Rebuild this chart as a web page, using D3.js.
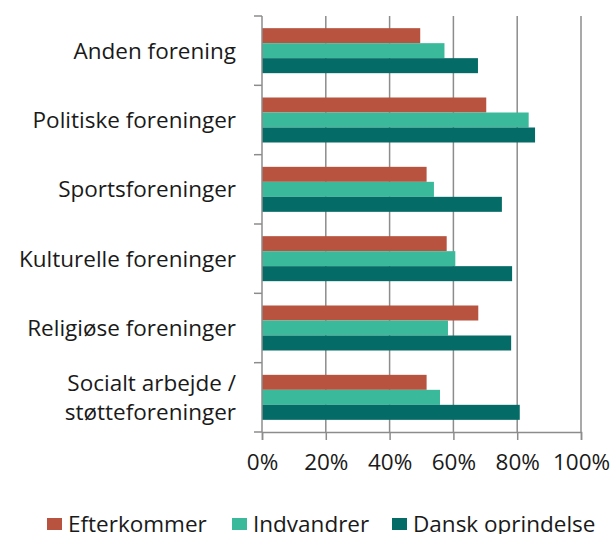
<!DOCTYPE html>
<html>
<head>
<meta charset="utf-8">
<script src="https://cdn.jsdelivr.net/npm/d3@7"></script>
<style>
  body { margin: 0; background: #fff; }
  text { font-family: "Open Sans", sans-serif; fill: #1a1a1a; }
</style>
</head>
<body>
<div id="chart"></div>
<script>
// categories top to bottom
var categories = ["Anden forening", "Politiske foreninger", "Sportsforeninger",
                  "Kulturelle foreninger", "Religiøse foreninger", "Socialt arbejde / støtteforeninger"];
var seriesNames = ["Efterkommer", "Indvandrer", "Dansk oprindelse"];
var efterkommer = [0.496, 0.703, 0.516, 0.579, 0.678, 0.516];
var indvandrer = [0.572, 0.836, 0.539, 0.606, 0.583, 0.558];
var danskOprindelse = [0.677, 0.856, 0.752, 0.784, 0.781, 0.808];
var xTicks = [0, 0.2, 0.4, 0.6, 0.8, 1];
var colors = ["#B85340", "#3BBA9B", "#046B66"];

var width = 613, height = 534;
var margin = { left: 262, right: 32, top: 16, bottom: 102 };
var fontSize = '22.5px';

var svg = d3.select('#chart').append('svg')
      .attr('width', width)
      .attr('height', height);

var x = d3.scaleLinear().domain([0, 1]).range([margin.left, width - margin.right]);
var y = d3.scaleBand().domain(categories).range([margin.top, height - margin.bottom]);
var barH = 15;
var yInner = d3.scaleBand().domain(seriesNames)
      .range([(y.bandwidth() - 3 * barH) / 2, (y.bandwidth() + 3 * barH) / 2]);

var data = categories.map(function (c, i) {
      return { cat: c, vals: [efterkommer[i], indvandrer[i], danskOprindelse[i]] };
});

//gridlines
svg.append('g').selectAll('line')
      .data(xTicks.slice(1))
      .enter().append('line')
      .attr('x1', function (d) { return x(d); })
      .attr('x2', function (d) { return x(d); })
      .attr('y1', margin.top)
      .attr('y2', height - margin.bottom)
      .attr('stroke', '#8c8c8c')
      .attr('stroke-width', 1.5);

//bars
var g = svg.selectAll('.grp')
      .data(data)
      .enter().append('g')
      .attr('class', 'grp')
      .attr('transform', function (d) { return 'translate(0,' + y(d.cat) + ')'; });

g.selectAll('rect')
      .data(function (d) { return d.vals.map(function (v, j) { return { s: seriesNames[j], v: v, j: j }; }); })
      .enter().append('rect')
      .attr('x', x(0))
      .attr('y', function (d) { return yInner(d.s); })
      .attr('width', function (d) { return x(d.v) - x(0); })
      .attr('height', yInner.bandwidth())
      .attr('fill', function (d) { return colors[d.j]; });

//x axis
var xAxis = svg.append('g')
      .attr('transform', 'translate(0,' + (height - margin.bottom) + ')')
      .call(d3.axisBottom(x).tickValues(xTicks).tickFormat(d3.format('.0%')).tickSizeOuter(0).tickSize(8).tickPadding(14));
xAxis.select('.domain').attr('stroke', '#8c8c8c').attr('stroke-width', 1.5);
xAxis.selectAll('.tick line').attr('stroke', '#8c8c8c').attr('stroke-width', 1.5);
xAxis.selectAll('text').style('font-size', fontSize).style('font-family', '"Open Sans", sans-serif').attr('fill', '#1a1a1a');

//y axis
var yAxis = svg.append('g')
      .attr('transform', 'translate(' + margin.left + ',0)');
yAxis.append('line')
      .attr('x1', 0).attr('x2', 0)
      .attr('y1', margin.top).attr('y2', height - margin.bottom)
      .attr('stroke', '#8c8c8c').attr('stroke-width', 1.5);
var yTickPos = categories.map(function (c) { return y(c); }).concat([y(categories[categories.length - 1]) + y.bandwidth()]);
yAxis.selectAll('.yt')
      .data(yTickPos)
      .enter().append('line')
      .attr('x1', -8).attr('x2', 0)
      .attr('y1', function (d) { return d; })
      .attr('y2', function (d) { return d; })
      .attr('stroke', '#8c8c8c').attr('stroke-width', 1.5);

//category labels
var labels = svg.append('g').selectAll('text')
      .data(categories)
      .enter().append('text')
      .attr('x', 236)
      .attr('y', function (d) { return y(d) + y.bandwidth() / 2; })
      .attr('text-anchor', 'end')
      .style('font-size', fontSize);
labels.each(function (d) {
      var parts = d.indexOf(' / ') >= 0 ? [d.split(' / ')[0] + ' /', d.split(' / ')[1]] : [d];
      var t = d3.select(this);
      parts.forEach(function (p, k) {
            t.append('tspan')
                  .attr('x', 236)
                  .attr('dy', k === 0 ? (parts.length === 1 ? '0.35em' : (0.35 - 0.65) + 'em') : '1.3em')
                  .text(p);
      });
});

//legend
var legendX = [47, 232, 392];
var leg = svg.append('g').selectAll('g')
      .data(seriesNames)
      .enter().append('g')
      .attr('transform', function (d, i) { return 'translate(' + legendX[i] + ',518)'; });
leg.append('rect')
      .attr('width', 15).attr('height', 12)
      .attr('fill', function (d, i) { return colors[i]; });
leg.append('text')
      .attr('x', 21).attr('y', 6)
      .attr('dy', '0.35em')
      .style('font-size', fontSize)
      .text(function (d) { return d; });
</script>
</body>
</html>
